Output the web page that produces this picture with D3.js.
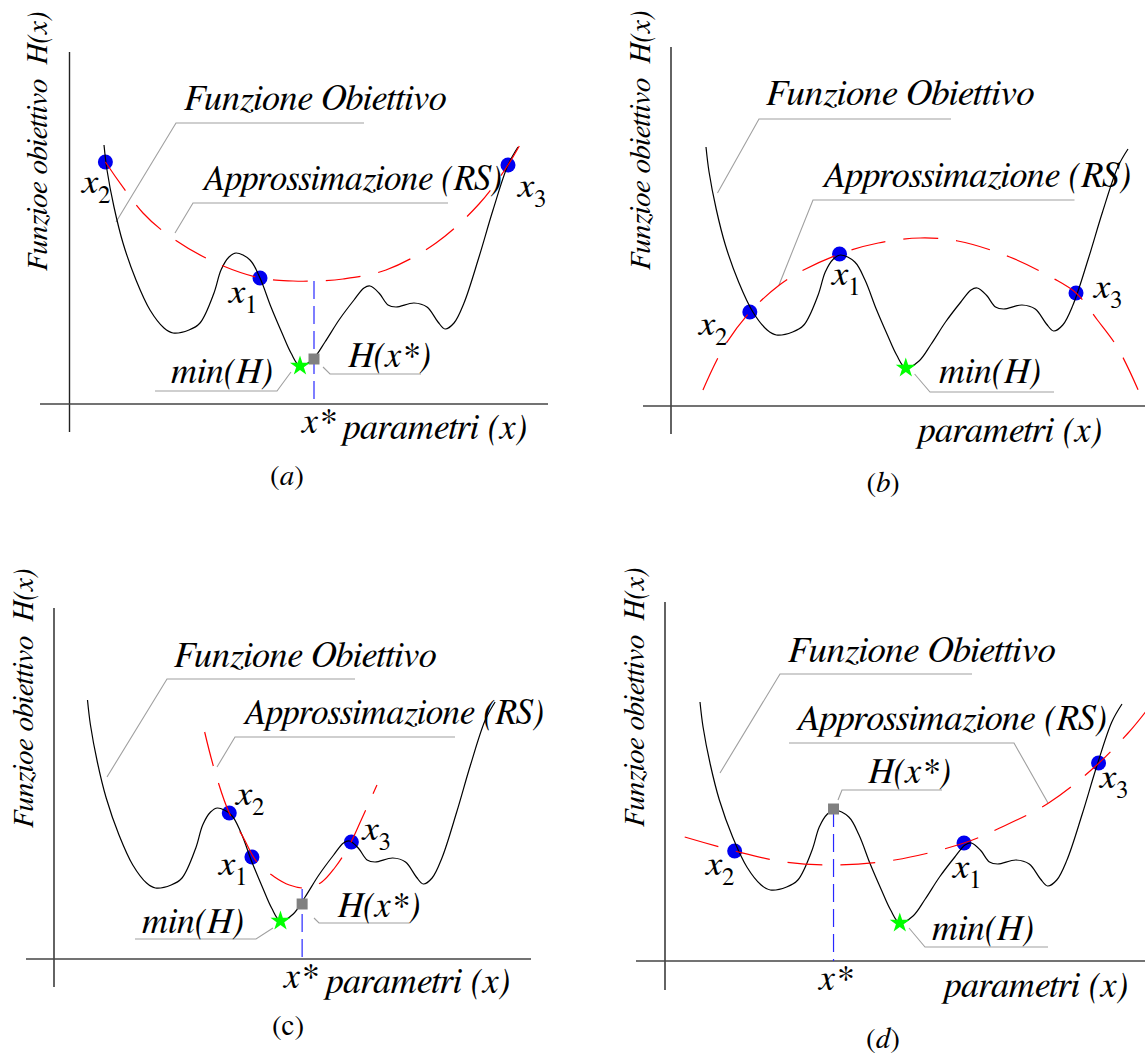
<!DOCTYPE html>
<html>
<head>
<meta charset="utf-8">
<script src="https://cdn.jsdelivr.net/npm/d3@7"></script>
<style>
  body { margin: 0; background: #fff; }
  svg { display: block; }
</style>
</head>
<body>
<svg id="chart" width="1145" height="1054"></svg>
<script>
// objective function H(x) - same curve in every panel (arbitrary units)
const funcX = [0, 3, 10, 19, 32, 46, 60, 69, 85, 96, 110, 117, 125, 132, 146, 156, 167, 178, 187, 196, 209, 221, 235, 250, 260, 266, 275, 284, 292, 310, 323, 334, 341, 350, 360, 375, 389, 404, 414];
const funcH = [259, 234, 197, 161, 124, 94, 76, 71, 74, 81, 111, 134, 147, 151, 144, 126, 97, 71, 51, 38, 45, 62, 84, 104, 116, 118, 111, 99, 97, 101, 97, 82, 75, 81, 101, 147, 194, 239, 257];

// global minimum min(H)
const minPoint = [196, 38];

// sampled points x1, x2, x3 per panel
const pointsA = [[156, 126], [1.4, 242], [404, 239]];
const pointsB = [[131, 152], [43, 94], [363, 113]];
const pointsC = [[167, 102], [144, 146], [268, 117]];
const pointsD = [[259, 118], [34, 110], [391, 198]];

// response surface approximation (RS) per panel
const rsA = [[1.4, 242], [39, 191], [67, 167], [110, 142], [156, 126], [189, 123], [210, 123], [239, 125], [282, 134], [332, 161], [375, 200], [404, 239], [424, 274]];
const rsB = [[-3, 16], [17, 58], [43, 94], [72, 121], [92, 134], [131, 152], [169, 163], [210, 168], [247, 165], [298, 149], [340, 128], [363, 113], [384, 86], [404, 58], [424, 16]];
const rsC = [[119, 227], [129, 189], [144, 146], [158, 122], [172, 97], [190, 82], [205, 74], [223, 71], [238, 77], [251, 91], [265, 112], [278, 139], [294, 174]];
const rsD = [[-15, 124], [34, 110], [83, 99], [134, 96], [191, 101], [259, 118], [294, 133], [342, 158], [386, 193], [420, 228], [437, 249]];

// x*, H(x*), RS(x*)
const xStarA = [210, 45, 123];
const xStarC = [218, 55, 70];
const xStarD = [131, 152, 152];

const svg = d3.select('#chart');
const serif = 'FreeSerif, "Liberation Serif", "Times New Roman", serif';
const grey = '#a0a0a0';

const panels = [
  { id: 'a', pts: pointsA, rs: rsA, xs: xStarA, x0: 104, w: 414, axisY: 404,
    yAx: [69.5, 52, 432], xAx: [40, 548],
    fo: [184, 110, 262, [[116, 222], [176, 123], [364, 123]]],
    rsl: [202, 190, 300, [[175, 233], [193, 203], [448, 203]]],
    mn: [171, 383, [[291, 372], [277, 391], [155, 391]]],
    hx: [348, 367, [[323, 367], [330, 374], [421, 374]]],
    lab: [[229, 303], [82, 193], [518, 197]],
    xsl: [302, 433], par: [343, 439], cap: [287, 485], yl: [47, 271] },
  { id: 'b', pts: pointsB, rs: rsB, xs: null, x0: 706, w: 422, axisY: 406,
    yAx: [671, 47, 434], xAx: [643, 1145],
    fo: [766, 105, 268, [[717.5, 193], [759, 119], [951, 119]]],
    rsl: [822, 187, 309, [[779, 285], [813, 200], [1074.5, 200]]],
    mn: [939, 383, [[914.6, 374], [930, 392], [1054, 392]]],
    hx: null,
    lab: [[832, 285], [699, 335], [1094, 298]],
    xsl: null, par: [918, 442], cap: [883, 492], yl: [650, 270] },
  { id: 'c', pts: pointsC, rs: rsC, xs: xStarC, x0: 87.5, w: 407.6, axisY: 959,
    yAx: [54, 608, 987], xAx: [26, 531],
    fo: [174, 667, 262, [[107, 777], [167, 679], [355, 679]]],
    rsl: [243, 724, 301, [[217, 767], [235, 737], [455, 737]]],
    mn: [142, 933, [[273, 928], [256, 939], [135, 939]]],
    hx: [337.5, 917, [[314, 918], [319, 923], [409, 923]]],
    lab: [[219, 875], [236, 805], [362.5, 840]],
    xsl: [284, 988], par: [326, 993], cap: [288, 1035], yl: [33, 828] },
  { id: 'd', pts: pointsD, rs: rsD, xs: xStarD, x0: 700, w: 422, axisY: 961,
    yAx: [665, 602, 990], xAx: [636, 1145],
    fo: [788, 662, 267, [[720, 773], [780, 674], [972, 674]]],
    rsl: [796, 730, 311, [[1048, 803], [1014, 743], [789, 743]]],
    mn: [932, 940, [[909, 928], [925, 947], [1048, 947]]],
    hx: [868, 783, [[838, 800], [842, 790], [942, 790]]],
    lab: [[953, 878], [706, 875], [1100, 788]],
    xsl: [819, 990], par: [944, 997], cap: [883, 1048], yl: [644, 827] }
];

const leader = d3.line();

panels.forEach(p => {
  const g = svg.append('g').attr('id', 'panel-' + p.id);
  const x = d3.scaleLinear().domain([0, 414]).range([p.x0, p.x0 + p.w]);
  const y = d3.scaleLinear().domain([0, 100]).range([p.axisY, p.axisY - 100]);
  const line = d3.line().x(d => x(d[0])).y(d => y(d[1])).curve(d3.curveCatmullRom.alpha(0.5));

  // axes
  g.append('line')
    .attr('x1', p.yAx[0]).attr('x2', p.yAx[0]).attr('y1', p.yAx[1]).attr('y2', p.yAx[2])
    .attr('stroke', '#222').attr('stroke-width', 1.4);
  g.append('line')
    .attr('x1', p.xAx[0]).attr('x2', p.xAx[1]).attr('y1', p.axisY).attr('y2', p.axisY)
    .attr('stroke', '#444').attr('stroke-width', 1.6);

  // leader lines
  [p.fo[3], p.rsl[3], p.mn[2]].concat(p.hx ? [p.hx[2]] : []).forEach(l => {
    g.append('path').attr('d', leader(l)).attr('fill', 'none')
      .attr('stroke', grey).attr('stroke-width', 1.1);
  });

  // sampled points
  g.selectAll('circle.pt').data(p.pts).join('circle')
    .attr('class', 'pt')
    .attr('cx', d => x(d[0])).attr('cy', d => y(d[1])).attr('r', 7.5)
    .attr('fill', '#0000f0');

  // objective function
  g.append('path').datum(d3.zip(funcX, funcH)).attr('d', line)
    .attr('fill', 'none').attr('stroke', '#000').attr('stroke-width', 1.2);

  // RS approximation
  g.append('path').datum(p.rs).attr('d', line)
    .attr('fill', 'none').attr('stroke', '#ff0000').attr('stroke-width', 1.2)
    .attr('stroke-dasharray', '35,18');

  // x* projection + H(x*)
  if (p.xs) {
    g.append('line')
      .attr('x1', x(p.xs[0])).attr('x2', x(p.xs[0]))
      .attr('y1', y(p.xs[2])).attr('y2', p.axisY)
      .attr('stroke', '#2828ff').attr('stroke-width', 1.2).attr('stroke-dasharray', '18,7');
    g.append('path')
      .attr('d', d3.symbol(d3.symbolSquare, 121)())
      .attr('transform', `translate(${x(p.xs[0])},${y(p.xs[1])})`)
      .attr('fill', '#808080');
  }

  // min(H)
  g.append('path')
    .attr('d', d3.symbol(d3.symbolStar, 125)())
    .attr('transform', `translate(${x(minPoint[0])},${y(minPoint[1])})`)
    .attr('fill', '#00ff00');

  // text annotations
  const t = (tx, ty, size) => g.append('text').attr('x', tx).attr('y', ty)
    .attr('font-family', serif).attr('font-size', size).attr('font-style', 'italic').attr('fill', '#000');

  t(p.fo[0], p.fo[1], 36).attr('textLength', p.fo[2]).attr('lengthAdjust', 'spacingAndGlyphs')
    .text('Funzione Obiettivo');
  t(p.rsl[0], p.rsl[1], 36).attr('textLength', p.rsl[2]).attr('lengthAdjust', 'spacingAndGlyphs')
    .text('Approssimazione (RS)');
  t(p.mn[0], p.mn[1], 36).text('min(H)');
  if (p.hx) t(p.hx[0], p.hx[1], 36).text('H(x*)');

  p.lab.forEach((l, i) => {
    const tt = t(l[0], l[1], 37);
    tt.append('tspan').text('x');
    tt.append('tspan').attr('dy', 10).attr('font-size', 25).attr('font-style', 'normal').text(i + 1);
  });

  if (p.xsl) t(p.xsl[0], p.xsl[1], 36).text('x*');
  t(p.par[0], p.par[1], 36).text('parametri (x)');

  // caption
  const cap = g.append('text').attr('x', p.cap[0]).attr('y', p.cap[1]).attr('text-anchor', 'middle')
    .attr('font-family', serif).attr('font-size', 29);
  cap.append('tspan').text('(');
  cap.append('tspan').attr('font-style', p.id === 'c' ? 'normal' : 'italic').text(p.id);
  cap.append('tspan').text(')');

  // y-axis title
  g.append('text')
    .attr('transform', `translate(${p.yl[0]},${p.yl[1]}) rotate(-90)`)
    .attr('font-family', serif).attr('font-size', 29.5).attr('font-style', 'italic')
    .text('Funzioe obiettivo\u00a0\u00a0H(x)');
});
</script>
</body>
</html>
